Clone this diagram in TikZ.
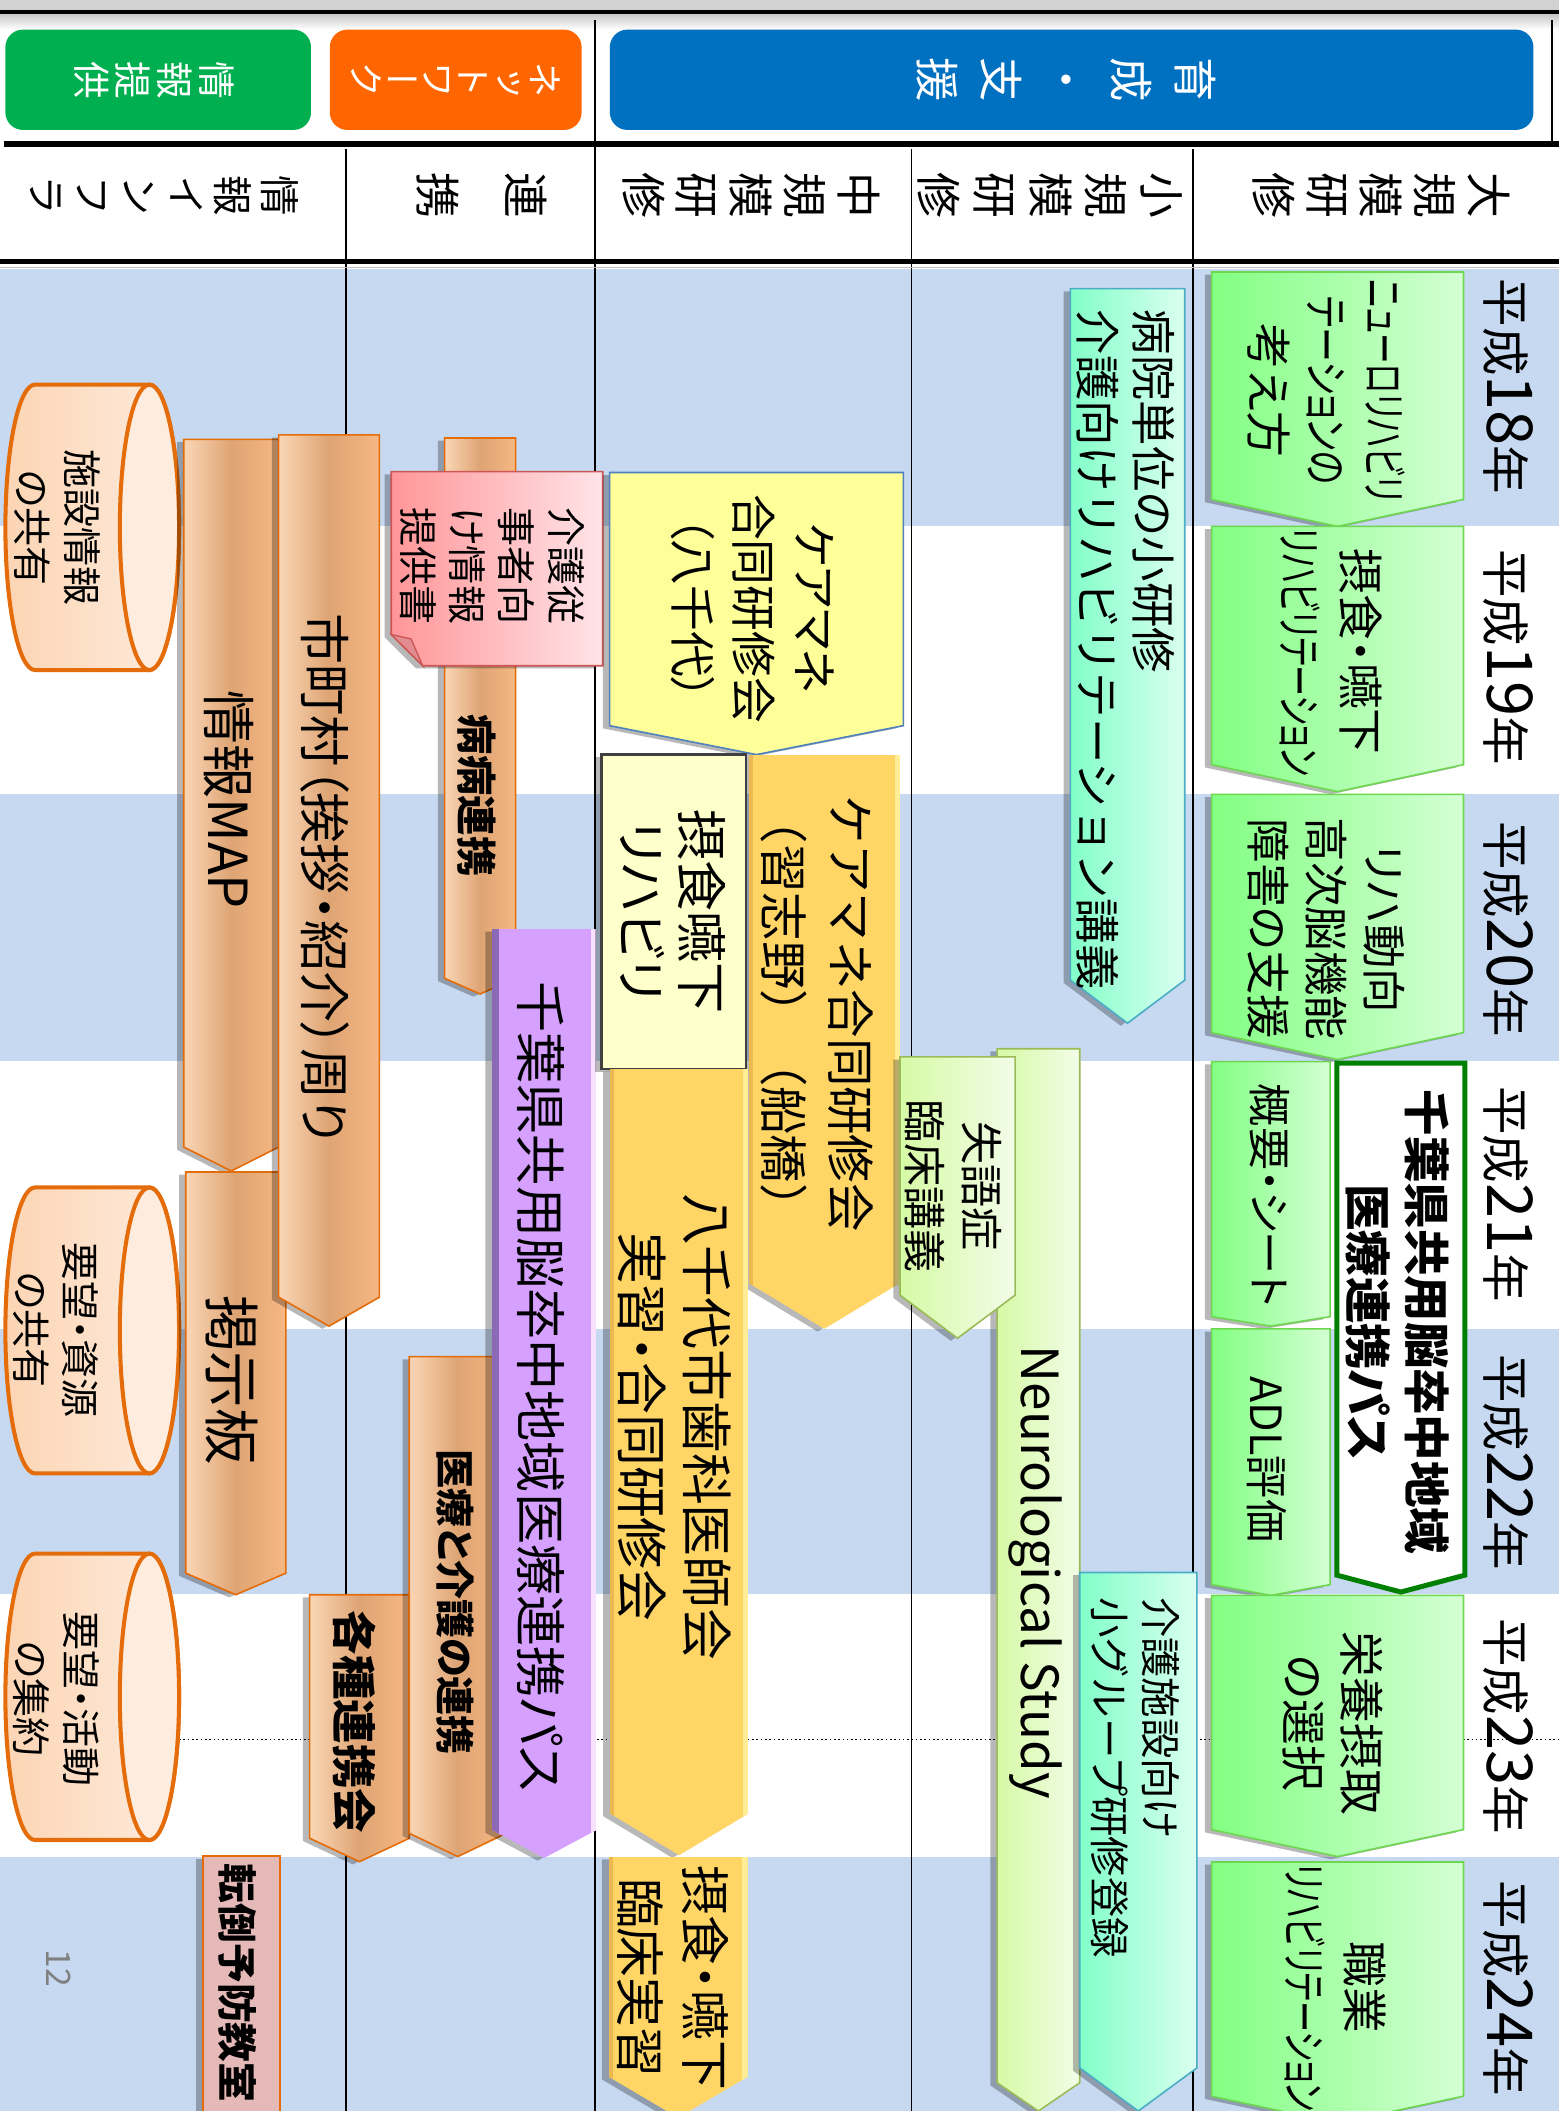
\documentclass[tikz,border=0pt]{standalone}
\usepackage{fontspec}
\usepackage{graphicx}
\setmainfont{Noto Sans CJK JP}
\newfontfamily\jp[RawFeature=+palt]{Noto Sans CJK JP}
\newfontfamily\jpn{Noto Sans CJK JP}
\newfontfamily\jpv[RawFeature=+vert]{Noto Sans CJK JP}
\newcommand\fs[2]{\fontsize{#1}{#2}\selectfont}
\newcommand\fw[2]{\resizebox{#1pt}{\height}{#2}}
\newcommand\yr[1]{平成{\fontsize{47}{47}\selectfont #1}年}
\newcommand\darrow[5]{(#1,#2) -- (#3,#2) -- (#3,#4) -- ({(#1+#3)/2},#5) -- (#1,#4) -- cycle}
\newcommand\sarrow[6]{\fill[shd] \darrow{#2}{#3}{#4}{#5}{#6}; \path[#1] \darrow{#2}{#3}{#4}{#5}{#6};}
\newcommand\goldarrow[5]{\fill[shd] \darrow{#1}{#2}{#3}{#4}{#5};
 \begin{scope}\clip \darrow{#1}{#2}{#3}{#4}{#5};
 \fill[gold] (#1,#2) rectangle (#3,#5);
 \fill[goldL] ({#3-4},#2) rectangle (#3,#5);
 \fill[goldD] (#1,#2) rectangle ({#1+3},#5);
 \end{scope}}
\newcommand\purparrow[5]{\fill[shd] \darrow{#1}{#2}{#3}{#4}{#5};
 \begin{scope}\clip \darrow{#1}{#2}{#3}{#4}{#5};
 \fill[purp] (#1,#2) rectangle (#3,#5);
 \fill[purpL] ({#3-4},#2) rectangle (#3,#5);
 \fill[purpD] (#1,#2) rectangle ({#1+5},#5);
 \end{scope}}
\newcommand\cyl[2]{%
 \path[left color=cyl, right color=cylL, draw=orgB, line width=3]
  (26,#1) -- (111,#1) arc[start angle=-90,end angle=90,x radius=22,y radius={(#2-#1)/2}]
  -- (26,#2) arc[start angle=90,end angle=270,x radius=22,y radius={(#2-#1)/2}] -- cycle;
 \draw[fill=cylL, draw=orgB, line width=3] (111,{(#1+#2)/2}) ellipse [x radius=22, y radius={(#2-#1)/2}];}
\definecolor{bandblue}{RGB}{198,217,240}
\definecolor{hgreen}{RGB}{0,176,80}
\definecolor{horange}{RGB}{255,102,0}
\definecolor{hblue}{RGB}{0,112,192}
\definecolor{grL}{RGB}{130,255,130}
\definecolor{grR}{RGB}{212,255,212}
\definecolor{grB}{RGB}{110,215,80}
\definecolor{cyL}{RGB}{130,255,200}
\definecolor{cyR}{RGB}{218,255,240}
\definecolor{cyB}{RGB}{75,172,198}
\definecolor{lgL}{RGB}{214,250,165}
\definecolor{lgR}{RGB}{242,252,232}
\definecolor{lgB}{RGB}{155,187,89}
\definecolor{yel}{RGB}{255,255,153}
\definecolor{yelB}{RGB}{79,129,189}
\definecolor{gold}{RGB}{255,213,102}
\definecolor{goldL}{RGB}{255,238,150}
\definecolor{goldD}{RGB}{235,185,80}
\definecolor{pale}{RGB}{255,255,204}
\definecolor{tanL}{RGB}{250,214,182}
\definecolor{tanM}{RGB}{222,164,115}
\definecolor{tanR}{RGB}{246,184,132}
\definecolor{orgB}{RGB}{228,108,10}
\definecolor{pkL}{RGB}{255,150,152}
\definecolor{pkR}{RGB}{255,228,232}
\definecolor{pkB}{RGB}{205,85,85}
\definecolor{pkF}{RGB}{225,140,145}
\definecolor{purp}{RGB}{214,160,255}
\definecolor{purpD}{RGB}{140,105,180}
\definecolor{purpL}{RGB}{248,225,255}
\definecolor{cyl}{RGB}{252,213,180}
\definecolor{cylL}{RGB}{254,236,222}
\definecolor{tenp}{RGB}{230,185,185}
\definecolor{passG}{RGB}{0,128,0}
\begin{document}
\begin{tikzpicture}[x=1pt,y=-1pt,
 rt/.style={rotate=-90,inner sep=0pt,align=center,font=\jp},
 tt/.style={rotate=-90,inner sep=0pt,align=center,font=\jpv},
 shd/.style={fill=black,opacity=0.28,xshift=-5pt,yshift=-2pt},
 tanbar/.style={left color=tanL,right color=tanR,middle color=tanM,draw=orgB,line width=1.2},
 grbar/.style={left color=grL,right color=grR,draw=grB,line width=1.2},
 cybar/.style={left color=cyL,right color=cyR,draw=cyB,line width=1.2},
 lgbar/.style={left color=lgL,right color=lgR,draw=lgB,line width=1.2}]
\path[use as bounding box] (0,0) rectangle (1158,1568);
\clip (0,0) rectangle (1158,1568);
\fill[white] (0,0) rectangle (1158,1568);
\foreach \a/\b in {200/391,590/788,987/1184,1379/1568} \fill[bandblue] (0,\a) rectangle (1158,\b);
% header
\fill[gray!35] (0,0) rectangle (1158,8);
\shade[top color=gray!45,bottom color=white] (0,10) rectangle (1158,22);
\draw[line width=3] (0,9) -- (1158,9);
\fill[hgreen, rounded corners=13] (4,22) rectangle (231,96.5);
\fill[horange, rounded corners=13] (245,22) rectangle (432,96.5);
\fill[hblue, rounded corners=13] (453,22) rectangle (1139,96.5);
\draw[line width=1.3] (442,15) -- (442,1568);
\draw[line width=1.3] (1153,15) -- (1153,107);
\foreach \x in {257,677} \draw[line width=1.3] (\x,111) -- (\x,1568);
\draw[line width=1.8] (886,111) -- (886,1568);
\draw[line width=4] (3,107) -- (1158,107);
\draw[line width=3.5] (0,194) -- (1158,194);
\draw[gray!50, line width=1] (0,198.5) -- (1158,198.5);
\draw[dotted, line width=1.2] (133,1292) -- (1158,1292);
% info infra
\cyl{285.7}{497.7}
\cyl{882}{1094.4}
\cyl{1154}{1366.7}
\sarrow{tanbar}{136.5}{326.4}{207}{852}{869.8}
\sarrow{tanbar}{138}{870.5}{212.3}{1168.5}{1184.5}
\sarrow{tanbar}{207}{323}{281.8}{963.5}{985}
\fill[shd] (150.8,1378.6) rectangle (208,1580);
\draw[fill=tenp, draw=orgB, line width=1.2] (150.8,1378.6) rectangle (208,1580);
% renkei
\sarrow{tanbar}{330.3}{325.3}{383}{726.7}{738.3}
\fill[shd] (290.6,350.3) -- (447.7,350.3) -- (447.7,494.5) -- (314,494.5) -- (290.6,471.3) -- cycle;
\path[left color=pkL, right color=pkR, draw=pkB, line width=1.2] (290.6,350.3) -- (447.7,350.3) -- (447.7,494.5) -- (314,494.5) -- (290.6,471.3) -- cycle;
\draw[fill=pkF, draw=pkB, line width=1] (290.6,471.3) -- (305.3,474.6) -- (314,494.5) -- cycle;
\sarrow{tanbar}{230}{1184.5}{304}{1365.4}{1382.8}
\sarrow{tanbar}{304}{1007.7}{376}{1361.7}{1379}
\purparrow{365.5}{690}{443}{1359.3}{1380}
% middle
\sarrow{fill=yel, draw=yelB, line width=1.2}{452.8}{351}{671}{539}{560.5}
\goldarrow{556}{560.5}{668.5}{953}{987}
\fill[shd] (447,560.5) rectangle (554,794);
\draw[fill=pale, draw=black!75, line width=2] (447,560.5) rectangle (554,794);
\goldarrow{453}{794}{556}{1347}{1378}
\goldarrow{452}{1379}{555.4}{1542.5}{1573}
% small
\sarrow{cybar}{795}{214.4}{880}{728}{760}
\sarrow{lgbar}{740.6}{779}{802}{1547}{1568}
\sarrow{lgbar}{668.5}{785}{754}{962}{994}
\sarrow{cybar}{802}{1168}{889}{1536}{1568}
% large
\sarrow{grbar}{900}{202}{1087}{371}{391}
\sarrow{grbar}{900}{391}{1087}{568}{588}
\sarrow{grbar}{900}{590}{1087}{767}{787}
\sarrow{grbar}{900}{788.5}{988}{978}{985}
\sarrow{grbar}{900}{987}{988}{1177}{1185}
\sarrow{grbar}{900}{1185}{1087}{1359}{1379}
\sarrow{grbar}{900}{1383}{1087}{1557}{1577}
\path[fill=white, draw=passG, line width=3.7] \darrow{993}{789.6}{1088}{1170}{1182.5};
% header texts
\node[tt, font=\jpv\fs{30}{34.7}] (h1) at (122,145) {情\\報\\イ\\ン\\フ\\ラ};
\node[tt, font=\jpv\fs{34}{65}] (h2) at (358,145) {連\\携};
\node[tt, font=\jpv\fs{34}{40}] (h3) at (558,145) {中\\規\\模\\研\\修};
\node[tt, font=\jpv\fs{34}{41.5}] (h4) at (780,145) {小\\規\\模\\研\\修};
\node[tt, font=\jpv\fs{34}{40}] (h5) at (1026,145) {大\\規\\模\\研\\修};
\node[tt, text=white, font=\jpv\fs{28}{31}] (b1) at (114.5,59.5) {情\\報\\提\\供};
\node[tt, text=white, font=\jpv\fs{27}{26.5}] (b2) at (338.5,59.5) {ネ\\ッ\\ト\\ワ\\ー\\ク};
\node[tt, text=white, font=\jpv\fs{33}{48}] (b3) at (792,59.5) {育\\成\\・\\支\\援};
% years
\node[rt, font=\jpn\fs{36}{40}] (y18) at (1120,287) {\yr{18}};
\node[rt, font=\jpn\fs{36}{40}] (y19) at (1120,488) {\yr{19}};
\node[rt, font=\jpn\fs{36}{40}] (y20) at (1120,690) {\yr{20}};
\node[rt, font=\jpn\fs{36}{40}] (y21) at (1120,887) {\yr{21}};
\node[rt, font=\jpn\fs{36}{40}] (y22) at (1120,1086) {\yr{22}};
\node[rt, font=\jpn\fs{36}{40}] (y23) at (1120,1282) {\yr{23}};
\node[rt, font=\jpn\fs{36}{40}] (y24) at (1120,1477) {\yr{24}};
% large texts
\node[rt, font=\jp\fs{34}{43}] (g18) at (985.5,290) {\fw{165}{ニューロリハビリ}\\\fw{140}{テーションの}\\考え方};
\node[rt, font=\jp\fs{34}{45}] (g19) at (988.5,484) {摂食・嚥下\\\fw{184}{リハビリテーション}};
\node[rt, font=\jp\fs{33}{43}] (g20) at (985,690) {リハ動向\\高次脳機能\\障害の支援};
\node[rt, font=\jp\fs{32}{40}] (g21) at (943,888) {概要・シート};
\node[rt, font=\jp\fs{32}{40}] (g22) at (941,1084) {ADL評価};
\node[rt, font=\jp\fs{34}{43}] (g23) at (990,1280) {栄養摂取\\の選択};
\node[rt, font=\jp\fs{34}{45}] (g24) at (992,1476) {職業\\\fw{184}{リハビリテーション}};
\node[rt, font=\jp\bfseries\fs{34.5}{43.5}] (pass) at (1038,982) {千葉県共用脳卒中地域\\医療連携パス};
% small texts
\node[rt, font=\jpn\fs{33.7}{41.6}, align=left, anchor=north west] (c1) at (873,230) {病院単位の小研修\\介護向けリハビリテーション講義};
\node[rt, font=\jp\fs{32}{42}] (s1) at (708,881) {失語症\\臨床講義};
\node[rt, font=\jp\fs{38}{46}] (s2) at (769,1168) {Neurological Study};
\node[rt, font=\jpn\fs{30}{37.5}, align=left, anchor=north west] (s3) at (876,1186) {介護施設向け\\小グループ研修登録};
% middle texts
\node[rt, font=\jp\fs{34}{45}] (m1) at (559,452) {ケアマネ\\合同研修会\\（八千代）};
\node[rt, font=\jpn\fs{36}{50}] (m2) at (607,753) {ケアマネ合同研修会\\（習志野）（船橋）};
\node[rt, font=\jp\fs{38}{45}] (m3) at (500,677) {摂食嚥下\\リハビリ};
\node[rt, font=\jp\fs{38.5}{48.6}] (m4) at (501,1060) {八千代市歯科医師会\\実習・合同研修会};
\node[rt, font=\jp\fs{37}{48.5}] (m5) at (500,1469) {摂食・嚥下\\臨床実習};
% renkei texts
\node[rt, font=\jp\bfseries\fs{30}{36}] (r1) at (354.5,591) {病病連携};
\node[rt, font=\jp\fs{29}{36.6}, align=left, anchor=north west] (r2) at (434,377) {介護従\\事者向\\け情報\\提供書};
\node[rt, font=\jp\fs{38}{45}] (r3) at (401.5,1030) {千葉県共用脳卒中地域医療連携パス};
\node[rt, font=\jp\bfseries\fs{29}{36}] (r4) at (338.4,1190) {医療と介護の連携};
\node[rt, font=\jp\bfseries\fs{33}{40}] (r5) at (263.5,1279) {各種連携会};
% infra texts
\node[rt, font=\jp\fs{29}{37}] (i1) at (42.5,392) {施設情報\\の共有};
\node[rt, font=\jp\fs{29}{37}] (i2) at (41.5,988) {要望・資源\\の共有};
\node[rt, font=\jp\fs{29}{37}] (i3) at (41.5,1262) {要望・活動\\の集約};
\node[rt, font=\jp\fs{40}{48}] (i4) at (170,594) {情報MAP};
\node[rt, font=\jp\fs{38}{45}] (i5) at (241.5,652) {市町村（挨拶・紹介）周り};
\node[rt, font=\jp\fs{42}{50}] (i6) at (172,1025) {掲示板};
\node[rt, font=\jp\bfseries\fs{29.5}{37}] (i7) at (176.5,1473) {転倒予防教室};
\node[rt, font=\jp\fs{25}{30}, text=gray] (pg) at (43.5,1462) {12};
\end{tikzpicture}
\end{document}
